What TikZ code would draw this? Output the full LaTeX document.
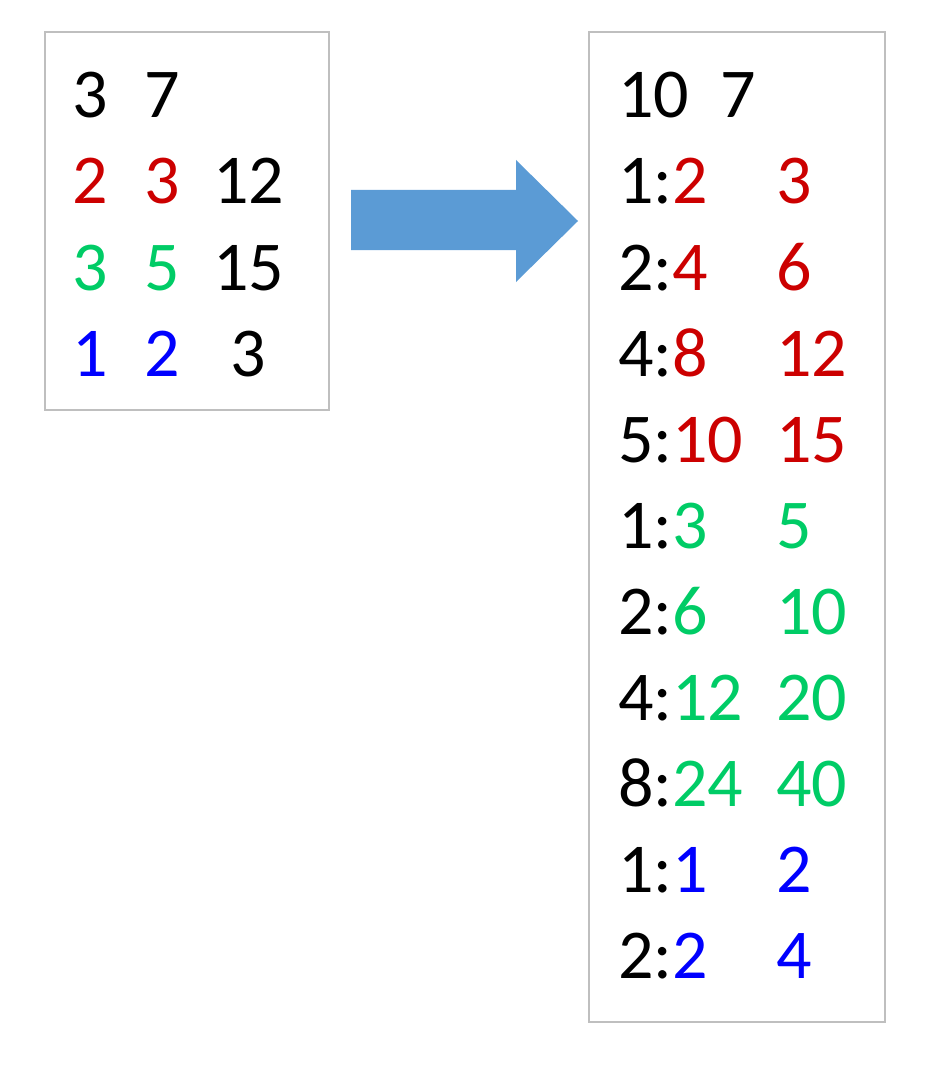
\documentclass[tikz,border=0pt]{standalone}
\usepackage{fontspec}
\setmainfont{Carlito}
\definecolor{cred}{RGB}{204,0,0}
\definecolor{cgreen}{RGB}{0,204,102}
\definecolor{cblue}{RGB}{0,0,255}
\definecolor{boxgray}{RGB}{191,191,191}
\definecolor{arrowblue}{RGB}{91,155,213}
\begin{document}
\begin{tikzpicture}[x=1pt,y=-1pt,
  tok/.style={anchor=base west,inner sep=0pt,outer sep=0pt,font=\fontsize{70}{80}\selectfont},
  panel/.style={draw=boxgray,line width=2.5pt}]
\useasboundingbox (0,0) rectangle (935,1075);
% boxes
\draw[panel] (45,32) rectangle (329,410);
\draw[panel] (589,32) rectangle (885,1022);
% arrow
\fill[arrowblue] (351,190) -- (516,190) -- (516,160) -- (578,221) -- (516,282) -- (516,250) -- (351,250) -- cycle;
% left box
\node[tok] (l11) at (72,118) {3};
\node[tok] (l12) at (144,118) {7};
\node[tok,cred] (l21) at (72,204) {2};
\node[tok,cred] (l22) at (144,204) {3};
\node[tok] (l23) at (213,204) {12};
\node[tok,cgreen] (l31) at (72,290) {3};
\node[tok,cgreen] (l32) at (144,290) {5};
\node[tok] (l33) at (213,290) {15};
\node[tok,cblue] (l41) at (72,376) {1};
\node[tok,cblue] (l42) at (144,376) {2};
\node[tok] (l43) at (230,376) {3};
% right box
\node[tok] (r01) at (618,118) {10};
\node[tok] (r02) at (720,118) {7};
\node[tok] (r11) at (618,204) {1:\textcolor{cred}{2}};
\node[tok,cred] (r12) at (776,204) {3};
\node[tok] (r21) at (618,290) {2:\textcolor{cred}{4}};
\node[tok,cred] (r22) at (776,290) {6};
\node[tok] (r31) at (618,376) {4:\textcolor{cred}{8}};
\node[tok,cred] (r32) at (776,376) {12};
\node[tok] (r41) at (618,462) {5:\textcolor{cred}{10}};
\node[tok,cred] (r42) at (776,462) {15};
\node[tok] (r51) at (618,548) {1:\textcolor{cgreen}{3}};
\node[tok,cgreen] (r52) at (776,548) {5};
\node[tok] (r61) at (618,634) {2:\textcolor{cgreen}{6}};
\node[tok,cgreen] (r62) at (776,634) {10};
\node[tok] (r71) at (618,720) {4:\textcolor{cgreen}{12}};
\node[tok,cgreen] (r72) at (776,720) {20};
\node[tok] (r81) at (618,806) {8:\textcolor{cgreen}{24}};
\node[tok,cgreen] (r82) at (776,806) {40};
\node[tok] (r91) at (618,892) {1:\textcolor{cblue}{1}};
\node[tok,cblue] (r92) at (776,892) {2};
\node[tok] (r101) at (618,978) {2:\textcolor{cblue}{2}};
\node[tok,cblue] (r102) at (776,978) {4};
\end{tikzpicture}
\end{document}
